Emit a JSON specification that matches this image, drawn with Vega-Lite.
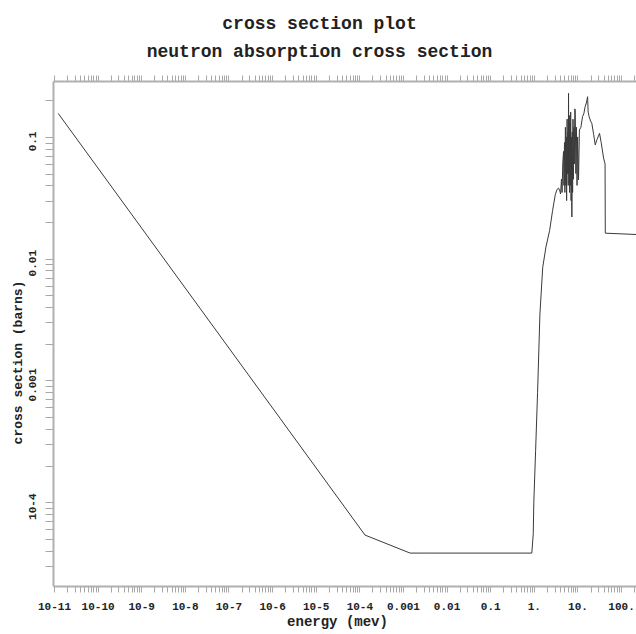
{
  "$schema": "https://vega.github.io/schema/vega-lite/v6.json",
  "width": 583,
  "height": 505,
  "autosize": {"type": "none"},
  "padding": {"left": 53, "top": 81, "right": 0, "bottom": 48},
  "background": "white",
  "title": {
    "text": ["cross section plot", "neutron absorption cross section"],
    "font": "Liberation Mono",
    "fontSize": 18,
    "fontWeight": "bold",
    "color": "#222",
    "lineHeight": 28,
    "anchor": "middle",
    "frame": "group",
    "dx": -25,
    "offset": 14
  },
  "config": {
    "view": {"stroke": null},
    "title": {"letterSpacing": 0.6},
    "axis": {
      "grid": false,
      "labelFont": "Liberation Mono",
      "labelFontWeight": "bold",
      "labelFontSize": 11,
      "labelColor": "#222",
      "labelOverlap": false,
      "labelFlush": false,
      "titleFont": "Liberation Mono",
      "titleFontWeight": "bold",
      "titleFontSize": 14,
      "titleColor": "#222",
      "domainColor": "#b0b0b0",
      "domainWidth": 2,
      "tickColor": "#a8a8a8",
      "tickSize": 6,
      "tickWidth": 1
    }
  },
  "data": {
    "values": [
      {"energy": 1.25e-11, "xs": 0.156},
      {"energy": 1.35e-4, "xs": 5.37e-5},
      {"energy": 1.46e-3, "xs": 3.82e-5},
      {"energy": 4.2e-3, "xs": 3.82e-5},
      {"energy": 0.031, "xs": 3.82e-5},
      {"energy": 0.9, "xs": 3.82e-5},
      {"energy": 0.97, "xs": 5.5e-5},
      {"energy": 1.0, "xs": 1e-4},
      {"energy": 1.1, "xs": 2.67e-4},
      {"energy": 1.22, "xs": 8.0e-4},
      {"energy": 1.38, "xs": 3.5e-3},
      {"energy": 1.6, "xs": 0.0085},
      {"energy": 1.9, "xs": 0.0125},
      {"energy": 2.3, "xs": 0.017},
      {"energy": 2.7, "xs": 0.025},
      {"energy": 3.1, "xs": 0.0335},
      {"energy": 3.4, "xs": 0.037},
      {"energy": 3.7, "xs": 0.038},
      {"energy": 3.95, "xs": 0.036},
      {"energy": 4.1, "xs": 0.034},
      {"energy": 4.3, "xs": 0.045},
      {"energy": 4.45, "xs": 0.035},
      {"energy": 4.6, "xs": 0.06},
      {"energy": 4.8, "xs": 0.076},
      {"energy": 4.9, "xs": 0.04},
      {"energy": 5.05, "xs": 0.09},
      {"energy": 5.15, "xs": 0.035},
      {"energy": 5.3, "xs": 0.12},
      {"energy": 5.4, "xs": 0.04},
      {"energy": 5.55, "xs": 0.1},
      {"energy": 5.65, "xs": 0.03},
      {"energy": 5.8, "xs": 0.14},
      {"energy": 5.9, "xs": 0.05},
      {"energy": 6.05, "xs": 0.11},
      {"energy": 6.15, "xs": 0.04},
      {"energy": 6.25, "xs": 0.228},
      {"energy": 6.35, "xs": 0.05},
      {"energy": 6.5, "xs": 0.15},
      {"energy": 6.6, "xs": 0.035},
      {"energy": 6.75, "xs": 0.13},
      {"energy": 6.85, "xs": 0.04},
      {"energy": 7.0, "xs": 0.16},
      {"energy": 7.15, "xs": 0.03},
      {"energy": 7.3, "xs": 0.1},
      {"energy": 7.45, "xs": 0.022},
      {"energy": 7.6, "xs": 0.11},
      {"energy": 7.75, "xs": 0.035},
      {"energy": 7.9, "xs": 0.14},
      {"energy": 8.1, "xs": 0.045},
      {"energy": 8.3, "xs": 0.12},
      {"energy": 8.5, "xs": 0.06},
      {"energy": 8.7, "xs": 0.17},
      {"energy": 8.9, "xs": 0.166},
      {"energy": 9.2, "xs": 0.05},
      {"energy": 9.5, "xs": 0.12},
      {"energy": 9.8, "xs": 0.04},
      {"energy": 10.1, "xs": 0.1},
      {"energy": 10.6, "xs": 0.0444},
      {"energy": 11.1, "xs": 0.114},
      {"energy": 12.0, "xs": 0.12},
      {"energy": 13.1, "xs": 0.147},
      {"energy": 14.0, "xs": 0.155},
      {"energy": 15.0, "xs": 0.177},
      {"energy": 16.0, "xs": 0.19},
      {"energy": 17.1, "xs": 0.214},
      {"energy": 17.6, "xs": 0.16},
      {"energy": 18.5, "xs": 0.147},
      {"energy": 20.0, "xs": 0.135},
      {"energy": 21.4, "xs": 0.129},
      {"energy": 23.5, "xs": 0.105},
      {"energy": 25.6, "xs": 0.086},
      {"energy": 28.0, "xs": 0.095},
      {"energy": 32.1, "xs": 0.107},
      {"energy": 35.0, "xs": 0.09},
      {"energy": 39.8, "xs": 0.067},
      {"energy": 43.0, "xs": 0.06},
      {"energy": 43.5, "xs": 0.0162},
      {"energy": 100.0, "xs": 0.016},
      {"energy": 220.0, "xs": 0.0158}
    ]
  },
  "resolve": {"axis": {"x": "independent"}},
  "layer": [
    {
      "mark": {"type": "line", "color": "#3a3a3a", "strokeWidth": 1, "clip": true, "interpolate": "linear"},
      "encoding": {
        "x": {
          "field": "energy",
          "type": "quantitative",
          "scale": {"type": "log", "domain": [9.5e-12, 220], "nice": false},
          "axis": {
            "orient": "bottom",
            "title": "energy (mev)",
            "titleX": 284,
            "titlePadding": 3,
            "labelPadding": 8,
            "values": [1e-11,2e-11,3e-11,4e-11,5e-11,6e-11,7e-11,8e-11,9e-11,
                       1e-10,2e-10,3e-10,4e-10,5e-10,6e-10,7e-10,8e-10,9e-10,
                       1e-9,2e-9,3e-9,4e-9,5e-9,6e-9,7e-9,8e-9,9e-9,
                       1e-8,2e-8,3e-8,4e-8,5e-8,6e-8,7e-8,8e-8,9e-8,
                       1e-7,2e-7,3e-7,4e-7,5e-7,6e-7,7e-7,8e-7,9e-7,
                       1e-6,2e-6,3e-6,4e-6,5e-6,6e-6,7e-6,8e-6,9e-6,
                       1e-5,2e-5,3e-5,4e-5,5e-5,6e-5,7e-5,8e-5,9e-5,
                       1e-4,2e-4,3e-4,4e-4,5e-4,6e-4,7e-4,8e-4,9e-4,
                       0.001,0.002,0.003,0.004,0.005,0.006,0.007,0.008,0.009,
                       0.01,0.02,0.03,0.04,0.05,0.06,0.07,0.08,0.09,
                       0.1,0.2,0.3,0.4,0.5,0.6,0.7,0.8,0.9,
                       1,2,3,4,5,6,7,8,9,
                       10,20,30,40,50,60,70,80,90,
                       100,200],
            "labelExpr": "abs(log(datum.value)/LN10 - round(log(datum.value)/LN10)) > 0.01 ? '' : (round(log(datum.value)/LN10) <= -4 ? '10' + round(log(datum.value)/LN10) : (round(log(datum.value)/LN10) < 0 ? '' + datum.value : datum.value + '.'))"
          }
        },
        "y": {
          "field": "xs",
          "type": "quantitative",
          "scale": {"type": "log", "domain": [2.05e-5, 0.288], "nice": false},
          "axis": {
            "orient": "left",
            "title": "cross section (barns)",
            "titleFontSize": 13,
            "titleX": -36,
            "titleY": 281,
            "titleAngle": -90,
            "titleAlign": "center",
            "titleBaseline": "middle",
            "tickSize": 8,
            "labelAngle": -90,
            "labelAlign": "center",
            "labelBaseline": "bottom",
            "labelPadding": 8,
            "labelOffset": 4,
            "values": [2e-5,3e-5,4e-5,5e-5,6e-5,7e-5,8e-5,9e-5,
                       1e-4,2e-4,3e-4,4e-4,5e-4,6e-4,7e-4,8e-4,9e-4,
                       0.001,0.002,0.003,0.004,0.005,0.006,0.007,0.008,0.009,
                       0.01,0.02,0.03,0.04,0.05,0.06,0.07,0.08,0.09,
                       0.1,0.2],
            "labelExpr": "abs(log(datum.value)/LN10 - round(log(datum.value)/LN10)) > 0.01 ? '' : (round(log(datum.value)/LN10) <= -4 ? '10' + round(log(datum.value)/LN10) : '' + datum.value)"
          }
        }
      }
    },
    {
      "mark": {"type": "point", "opacity": 0},
      "encoding": {
        "x": {
          "field": "energy",
          "type": "quantitative",
          "scale": {"type": "log", "domain": [9.5e-12, 220], "nice": false},
          "axis": {
            "orient": "top",
            "title": null,
            "labels": false,
            "values": [1e-11,2e-11,3e-11,4e-11,5e-11,6e-11,7e-11,8e-11,9e-11,
                       1e-10,2e-10,3e-10,4e-10,5e-10,6e-10,7e-10,8e-10,9e-10,
                       1e-9,2e-9,3e-9,4e-9,5e-9,6e-9,7e-9,8e-9,9e-9,
                       1e-8,2e-8,3e-8,4e-8,5e-8,6e-8,7e-8,8e-8,9e-8,
                       1e-7,2e-7,3e-7,4e-7,5e-7,6e-7,7e-7,8e-7,9e-7,
                       1e-6,2e-6,3e-6,4e-6,5e-6,6e-6,7e-6,8e-6,9e-6,
                       1e-5,2e-5,3e-5,4e-5,5e-5,6e-5,7e-5,8e-5,9e-5,
                       1e-4,2e-4,3e-4,4e-4,5e-4,6e-4,7e-4,8e-4,9e-4,
                       0.001,0.002,0.003,0.004,0.005,0.006,0.007,0.008,0.009,
                       0.01,0.02,0.03,0.04,0.05,0.06,0.07,0.08,0.09,
                       0.1,0.2,0.3,0.4,0.5,0.6,0.7,0.8,0.9,
                       1,2,3,4,5,6,7,8,9,
                       10,20,30,40,50,60,70,80,90,
                       100,200]
          }
        },
        "y": {"field": "xs", "type": "quantitative", "scale": {"type": "log", "domain": [2.05e-5, 0.288], "nice": false}}
      }
    }
  ]
}
